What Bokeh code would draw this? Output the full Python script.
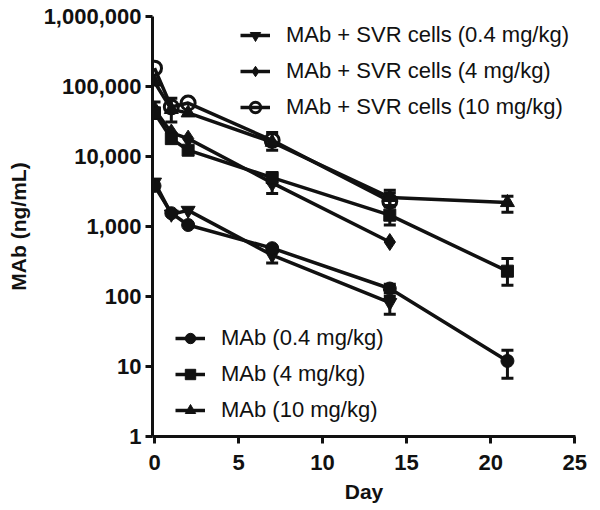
from bokeh.plotting import figure
from bokeh.models import (ColumnDataSource, Legend, LegendItem, Whisker, TeeHead,
                          FixedTicker, NumeralTickFormatter, Range1d)
from bokeh.embed import file_html
from bokeh.resources import INLINE
import math

NAN = float("nan")

# ---- data ----
days6 = [0, 1, 2, 7, 14, 21]
days5 = [0, 1, 2, 7, 14]

mab_04 = [3800, 1550, 1050, 490, 130, 12]
mab_04_lo = [NAN, NAN, NAN, NAN, 112, 6.8]
mab_04_hi = [NAN, NAN, NAN, NAN, 150, 17]

mab_4 = [42000, 18000, 12300, 5000, 1450, 230]
mab_4_lo = [35000, NAN, NAN, NAN, 1050, 145]
mab_4_hi = [60000, NAN, NAN, NAN, 2000, 350]

mab_10 = [116000, 47000, 42000, 16000, 2600, 2200]
mab_10_lo = [NAN, NAN, NAN, NAN, 2000, 1600]
mab_10_hi = [NAN, NAN, NAN, NAN, 3300, 2700]

svr_04 = [4300, 1500, 1700, 390, 82]
svr_04_lo = [NAN, NAN, NAN, 300, 56]
svr_04_hi = [NAN, NAN, NAN, 480, 100]

svr_4 = [47000, 22000, 18000, 4200, 600]
svr_4_lo = [NAN, NAN, NAN, 2950, NAN]
svr_4_hi = [NAN, NAN, NAN, 5500, NAN]

svr_10 = [183000, 51000, 58000, 17000, 2300]
svr_10_lo = [NAN, 31000, NAN, 12300, 1900]
svr_10_hi = [NAN, 68000, NAN, 22000, 3000]

y_ticks = [1, 10, 100, 1000, 10000, 100000, 1000000]
x_ticks = [0, 5, 10, 15, 20, 25]

FONT = "Liberation Sans"
INK = "#111111"

p = figure(width=592, height=502, y_axis_type="log",
           x_range=Range1d(-0.12, 25.05), y_range=Range1d(1, 1000000),
           output_backend="svg", toolbar_location=None,
           min_border_left=152, min_border_top=16, min_border_right=17,
           min_border_bottom=66, frame_width=423, frame_height=420)
p.outline_line_color = None
p.xgrid.visible = False
p.ygrid.visible = False

for ax in (p.xaxis[0], p.yaxis[0]):
    ax.axis_line_width = 3
    ax.axis_line_color = INK
    ax.major_tick_line_width = 3
    ax.major_tick_line_color = INK
    ax.major_tick_out = 7
    ax.major_tick_in = 0
    ax.minor_tick_line_color = None
    ax.major_label_text_font = FONT
    ax.major_label_text_font_style = "bold"
    ax.major_label_text_font_size = "22px"
    ax.major_label_text_color = INK
    ax.axis_label_text_font = FONT
    ax.axis_label_text_font_style = "bold"
    ax.axis_label_text_font_size = "21px"
    ax.axis_label_text_color = INK

p.yaxis.ticker = FixedTicker(ticks=y_ticks)
p.yaxis.formatter = NumeralTickFormatter(format="0,0")
p.yaxis.major_label_standoff = 4
p.yaxis.axis_label = "MAb (ng/mL)"
p.yaxis.axis_label_standoff = 11

p.xaxis.ticker = FixedTicker(ticks=x_ticks)
p.xaxis.major_label_standoff = 11
p.xaxis.axis_label = "Day"
p.xaxis.axis_label_standoff = 7


def series(x, y, lo, hi, marker, size, fill="black", label=None):
    src = ColumnDataSource(dict(x=x, y=y))
    ln = p.line("x", "y", source=src, line_width=3.5, line_color=INK)
    ex, elo, ehi = [], [], []
    for xi, l, h in zip(x, lo, hi):
        if not (math.isnan(l) or math.isnan(h)):
            ex.append(xi); elo.append(l); ehi.append(h)
    if ex:
        esrc = ColumnDataSource(dict(x=ex, lo=elo, hi=ehi))
        w = Whisker(base="x", lower="lo", upper="hi", source=esrc,
                    line_width=3, line_color=INK,
                    upper_head=TeeHead(size=12, line_width=3, line_color=INK),
                    lower_head=TeeHead(size=12, line_width=3, line_color=INK))
        p.add_layout(w)
    if fill == "black":
        mk = p.scatter("x", "y", source=src, marker=marker, size=size,
                       fill_color=INK, line_color=INK, line_width=1)
    else:
        mk = p.scatter("x", "y", source=src, marker=marker, size=size,
                       fill_alpha=0, line_color=INK, line_width=3)
    return LegendItem(label=label, renderers=[ln, mk])


it_svr04 = series(days5, svr_04, svr_04_lo, svr_04_hi, "inverted_triangle", 14,
                  label="MAb + SVR cells (0.4 mg/kg)")
it_svr4 = series(days5, svr_4, svr_4_lo, svr_4_hi, "diamond", 17,
                 label="MAb + SVR cells (4 mg/kg)")
it_svr10 = series(days5, svr_10, svr_10_lo, svr_10_hi, "circle", 14, fill="open",
                  label="MAb + SVR cells (10 mg/kg)")
it_m04 = series(days6, mab_04, mab_04_lo, mab_04_hi, "circle", 13,
                label="MAb (0.4 mg/kg)")
it_m4 = series(days6, mab_4, mab_4_lo, mab_4_hi, "square", 12,
               label="MAb (4 mg/kg)")
it_m10 = series(days6, mab_10, mab_10_lo, mab_10_hi, "triangle", 14,
                label="MAb (10 mg/kg)")


def make_legend(items, loc):
    lg = Legend(items=items, location=loc, orientation="vertical",
                padding=0, margin=0, spacing=10,
                glyph_width=30, glyph_height=26, label_height=26,
                label_standoff=16,
                label_text_font=FONT, label_text_font_size="22px",
                label_text_color=INK,
                background_fill_alpha=0, border_line_color=None)
    return lg


p.add_layout(make_legend([it_svr04, it_svr4, it_svr10], (88, 316)), "center")
p.add_layout(make_legend([it_m04, it_m4, it_m10], (23, 13)), "center")

open("out.html", "w").write(file_html(p, INLINE))
